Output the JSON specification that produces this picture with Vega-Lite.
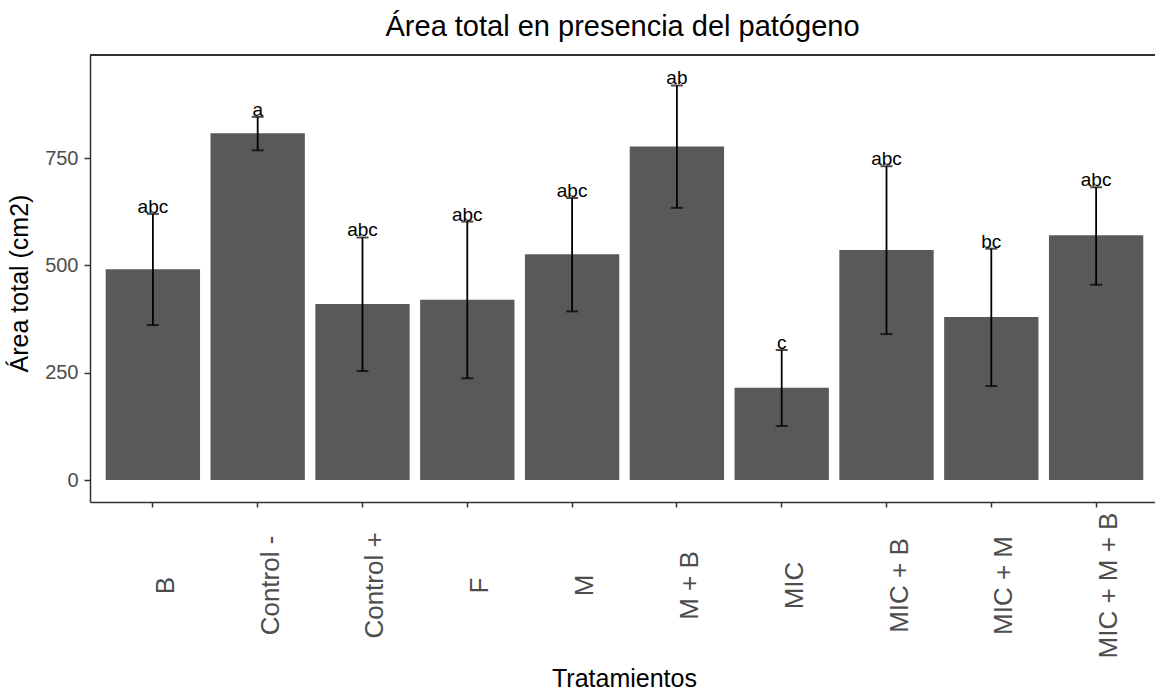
{
  "$schema": "https://vega.github.io/schema/vega-lite/v6.json",
  "autosize": {"type": "none"},
  "width": 1065,
  "height": 447,
  "padding": {"left": 90, "top": 55, "right": 0, "bottom": 189},
  "background": "white",
  "title": {
    "text": "Área total en presencia del patógeno",
    "font": "Liberation Sans",
    "fontSize": 29,
    "fontWeight": "normal",
    "color": "#000000",
    "anchor": "middle",
    "offset": 12
  },
  "config": {
    "view": {"stroke": null},
    "axis": {
      "grid": false,
      "domain": true,
      "domainColor": "#333333",
      "domainWidth": 1.5,
      "labelFont": "Liberation Sans",
      "labelColor": "#4D4D4D",
      "tickColor": "#333333",
      "tickWidth": 1.5,
      "titleFont": "Liberation Sans",
      "titleFontWeight": "normal",
      "titleColor": "#000000"
    }
  },
  "data": {
    "values": [
      {"tratamiento": "B", "media": 491, "inferior": 361, "superior": 620, "letra": "abc"},
      {"tratamiento": "Control -", "media": 808, "inferior": 768, "superior": 846, "letra": "a"},
      {"tratamiento": "Control +", "media": 410, "inferior": 254, "superior": 565, "letra": "abc"},
      {"tratamiento": "F", "media": 420, "inferior": 237, "superior": 602, "letra": "abc"},
      {"tratamiento": "M", "media": 526, "inferior": 393, "superior": 657, "letra": "abc"},
      {"tratamiento": "M + B", "media": 777, "inferior": 634, "superior": 919, "letra": "ab"},
      {"tratamiento": "MIC", "media": 215, "inferior": 126, "superior": 303, "letra": "c"},
      {"tratamiento": "MIC + B", "media": 536, "inferior": 340, "superior": 731, "letra": "abc"},
      {"tratamiento": "MIC + M", "media": 380, "inferior": 219, "superior": 539, "letra": "bc"},
      {"tratamiento": "MIC + M + B", "media": 570, "inferior": 455, "superior": 682, "letra": "abc"}
    ]
  },
  "layer": [
    {
      "mark": {"type": "bar", "color": "#595959"},
      "encoding": {
        "x": {
          "field": "tratamiento",
          "type": "nominal",
          "sort": null,
          "scale": {"paddingInner": 0.1, "paddingOuter": 0.15, "range": [0, 1069]},
          "axis": {
            "title": "Tratamientos",
            "titleFontSize": 25,
            "titleBaseline": "alphabetic",
            "titleY": 184,
            "titleX": 534,
            "labelFontSize": 26,
            "labelAngle": -90,
            "labelAlign": "center",
            "labelBaseline": "top",
            "labelPadding": 78,
            "labelOverlap": false,
            "labelLimit": 0,
            "tickSize": 5
          }
        },
        "y": {
          "field": "media",
          "type": "quantitative",
          "scale": {"domain": [-51, 990], "nice": false},
          "axis": {
            "title": "Área total (cm2)",
            "titleFontSize": 25,
            "titleBaseline": "alphabetic",
            "titleX": -63,
            "titleY": 228,
            "values": [0, 250, 500, 750],
            "labelFontSize": 20,
            "labelPadding": 6,
            "tickSize": 6
          }
        },
        "y2": {"datum": 0}
      }
    },
    {
      "mark": {"type": "rule", "color": "#000000", "strokeWidth": 1.8},
      "encoding": {
        "x": {"field": "tratamiento", "type": "nominal", "sort": null},
        "y": {"field": "inferior", "type": "quantitative"},
        "y2": {"field": "superior"}
      }
    },
    {
      "mark": {"type": "tick", "color": "#000000", "thickness": 2, "size": 12},
      "encoding": {
        "x": {"field": "tratamiento", "type": "nominal", "sort": null},
        "y": {"field": "superior", "type": "quantitative"}
      }
    },
    {
      "mark": {"type": "tick", "color": "#000000", "thickness": 2, "size": 12},
      "encoding": {
        "x": {"field": "tratamiento", "type": "nominal", "sort": null},
        "y": {"field": "inferior", "type": "quantitative"}
      }
    },
    {
      "mark": {
        "type": "text",
        "font": "Liberation Sans",
        "fontSize": 19,
        "color": "#000000",
        "baseline": "alphabetic",
        "dy": -1
      },
      "encoding": {
        "x": {"field": "tratamiento", "type": "nominal", "sort": null},
        "y": {"field": "superior", "type": "quantitative"},
        "text": {"field": "letra"}
      }
    },
    {
      "mark": {"type": "rule", "color": "#333333", "strokeWidth": 1.5},
      "encoding": {"y": {"datum": 990}}
    }
  ]
}
